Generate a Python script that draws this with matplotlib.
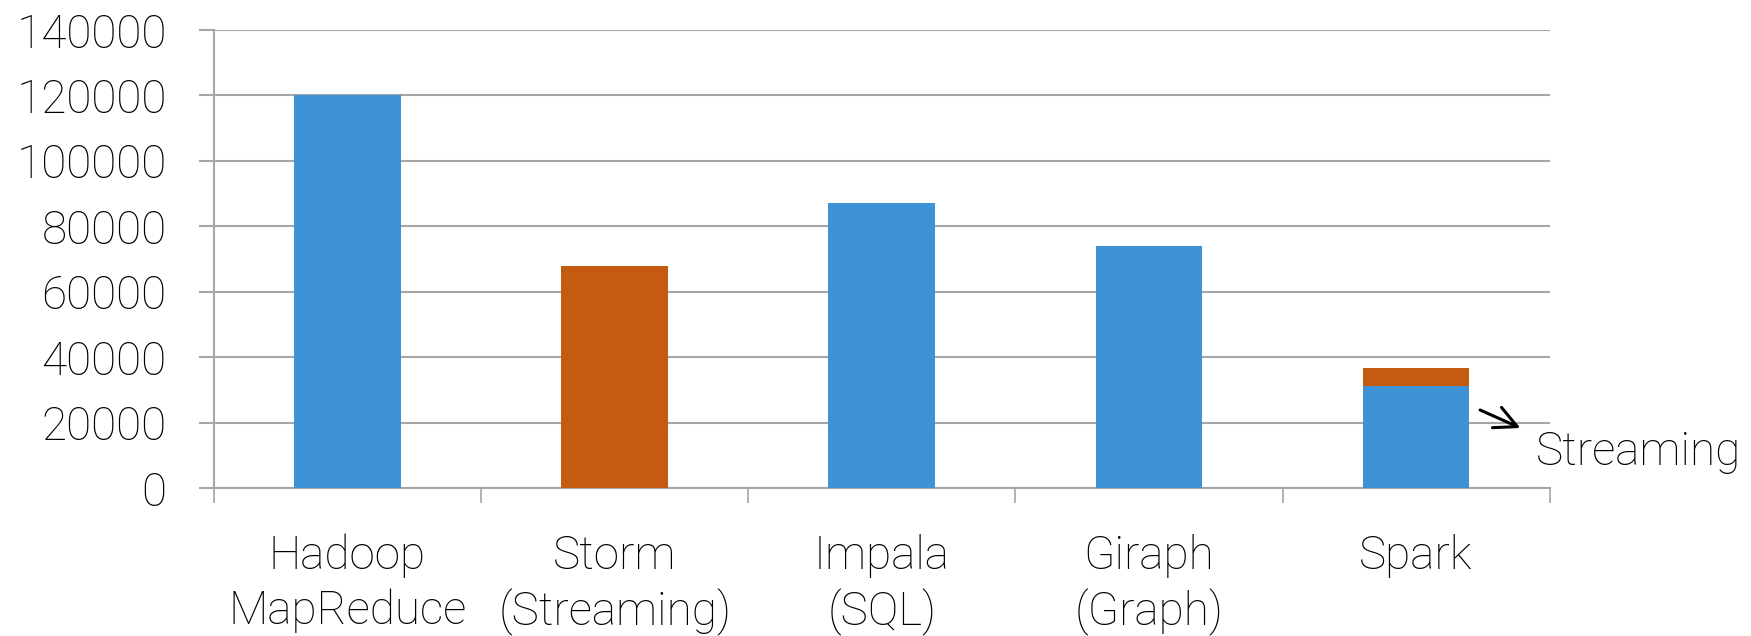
import matplotlib.pyplot as plt
import numpy as np

plt.rcParams['font.family'] = ['Roboto', 'DejaVu Sans']

categories = ['Hadoop\nMapReduce', 'Storm\n(Streaming)', 'Impala\n(SQL)', 'Giraph\n(Graph)', 'Spark']
batch_values = [120000, 0, 87000, 74000, 31300]
stream_values = [0, 68000, 0, 0, 5400]
yticks = [0, 20000, 40000, 60000, 80000, 100000, 120000, 140000]

blue = '#3d93d6'
orange = '#c55a11'
grid_col = '#a6a6a6'
weight = 'light'

fig = plt.figure(figsize=(17.51, 6.36), dpi=100)
ax = fig.add_axes([0.1222, 0.2327, 0.7628, 0.7201])

x = np.arange(len(categories))
ax.bar(x, batch_values, width=0.4, color=blue, zorder=3)
ax.bar(x, stream_values, width=0.4, bottom=batch_values, color=orange, zorder=3)

ax.set_xlim(-0.5, len(categories) - 0.5)
ax.set_ylim(0, 140000)
ax.set_yticks(yticks)
ax.set_yticklabels([str(v) for v in yticks], fontsize=33, fontweight=weight)
ax.yaxis.grid(True, color=grid_col, linewidth=1.5, zorder=0)
ax.tick_params(axis='y', length=11, width=1.5, color=grid_col, pad=23)

ax.set_xticks(x)
ax.set_xticklabels(categories, fontsize=33, fontweight=weight, linespacing=1.28)
ax.set_xticks(np.arange(-0.5, len(categories)), minor=True)
ax.tick_params(axis='x', which='major', length=0, pad=33)
ax.tick_params(axis='x', which='minor', length=11, width=1.2, color=grid_col)

for side in ['top', 'right']:
    ax.spines[side].set_visible(False)
ax.spines['left'].set_color(grid_col)
ax.spines['left'].set_linewidth(1.5)
ax.spines['bottom'].set_color(grid_col)
ax.spines['bottom'].set_linewidth(1.5)

# callout for the streaming part of the Spark bar
ax.annotate('', xy=(4.40, 18000), xytext=(4.23, 24200),
            arrowprops=dict(arrowstyle='->', color='black', lw=2.2, mutation_scale=40),
            annotation_clip=False)
ax.text(4.45, 7000, 'Streaming', fontsize=33, fontweight=weight,
        ha='left', va='baseline', clip_on=False)

fig.savefig('out.png', dpi=100)
